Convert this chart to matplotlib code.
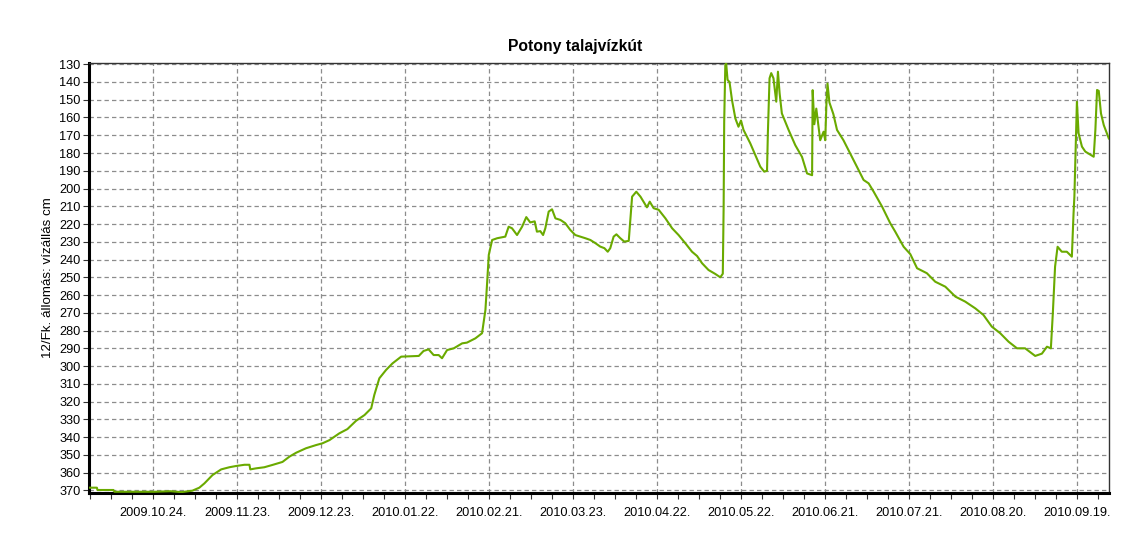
import numpy as np
import matplotlib
matplotlib.use("Agg")
import matplotlib.pyplot as plt
import matplotlib.dates as mdates

plt.rcParams['font.family'] = ['Liberation Sans', 'DejaVu Sans']

# ---- data ----
title = "Potony talajvízkút"
ylabel = "12/Fk. állomás: vízállás cm"
start_date = "2009-10-01"
# days since start_date
days = [0.0, 2.8, 3.0, 8.7, 9.1, 23.4, 29.1, 33.0, 36.9, 39.4, 41.2, 44.1, 47.2, 50.1,
        52.5, 55.5, 57.3, 57.6, 59.7, 62.6, 65.5, 69.1, 71.6, 74.0, 77.5, 81.1, 83.4,
        85.9, 89.4, 92.3, 95.4, 98.4, 100.8, 101.9, 103.7, 106.1, 108.4, 111.5, 117.8,
        119.5, 121.3, 123.1, 124.9, 126.1, 127.9, 130.3, 133.3, 135.0, 138.0, 140.4,
        141.6, 142.2, 142.8, 144.0, 145.8, 148.7, 149.9, 151.1, 152.9, 154.7, 156.2,
        157.6, 159.2, 160.0, 161.2, 162.2, 163.0, 164.2, 165.4, 166.6, 168.4, 170.1,
        171.9, 173.7, 175.5, 177.3, 179.1, 180.9, 182.6, 184.1, 185.3, 186.2, 187.4,
        188.4, 189.8, 191.2, 192.8, 194.0, 195.5, 197.0, 199.3, 200.3, 201.7, 203.5,
        205.9, 208.3, 210.6, 213.0, 215.4, 217.2, 219.0, 221.3, 223.7, 225.5, 226.4,
        226.7, 226.9, 227.3, 227.6, 228.1, 228.8, 229.7, 230.9, 232.0, 232.9, 233.8,
        236.2, 238.0, 239.8, 241.2, 242.2, 242.5, 243.1, 243.7, 244.5, 245.5, 246.1,
        246.7, 247.5, 249.9, 252.3, 254.7, 256.5, 258.3, 258.5, 259.1, 259.8, 261.2,
        262.4, 263.0, 263.4, 263.8, 264.5, 265.9, 267.2, 269.5, 271.9, 274.3, 276.7,
        278.5, 280.3, 283.3, 286.2, 288.0, 291.0, 293.4, 295.8, 299.3, 302.3, 305.9,
        309.5, 313.0, 316.6, 319.5, 322.5, 325.5, 328.5, 331.5, 334.4, 338.0, 340.4,
        342.2, 343.6, 344.3, 345.1, 346.0, 347.5, 349.3, 351.1, 351.7, 352.0, 352.9,
        353.5, 354.7, 355.9, 358.9, 359.5, 360.1, 360.7, 361.5, 362.5, 364.3]
level_cm = [368.5, 368.5, 369.8, 369.8, 370.8, 370.8, 370.5, 371.0, 370.2, 368.5, 366.1,
            361.4, 358.2, 357.0, 356.3, 355.6, 355.6, 358.2, 357.6, 357.0, 355.7, 354.0,
            351.0, 348.8, 346.3, 344.5, 343.5, 341.7, 337.9, 335.5, 330.8, 327.6, 323.8,
            316.3, 306.9, 302.2, 298.5, 294.7, 294.3, 291.5, 290.6, 293.8, 293.8, 295.6,
            291.0, 290.0, 287.2, 286.8, 284.4, 281.5, 268.4, 253.4, 237.4, 229.0, 228.0,
            227.1, 221.5, 222.4, 226.2, 221.5, 216.1, 219.1, 218.5, 224.3, 224.0, 226.2,
            222.4, 213.0, 211.7, 216.8, 217.7, 219.5, 223.3, 226.2, 227.1, 228.0, 229.0,
            230.8, 232.7, 233.6, 235.6, 233.6, 227.1, 225.8, 228.0, 229.9, 229.5, 204.6,
            201.8, 204.6, 210.6, 207.4, 211.1, 212.0, 216.8, 222.4, 226.2, 230.8, 235.6,
            238.0, 242.1, 245.9, 248.1, 250.0, 248.0, 210.2, 162.3, 130.4, 129.4, 138.8,
            140.0, 150.3, 160.6, 165.2, 161.7, 167.0, 174.5, 181.1, 187.7, 190.5, 190.0,
            168.9, 137.9, 135.0, 137.9, 151.1, 134.2, 146.4, 157.7, 167.0, 175.6, 182.2,
            191.5, 192.5, 144.6, 163.8, 155.0, 172.8, 168.0, 172.8, 153.1, 140.9, 151.6,
            158.1, 167.0, 172.8, 180.2, 187.7, 195.2, 197.1, 201.8, 210.2, 219.5, 224.3,
            232.8, 237.0, 244.9, 247.7, 252.5, 255.3, 260.9, 263.7, 267.5, 271.2, 277.8,
            281.5, 286.3, 290.0, 290.0, 294.3, 293.0, 289.1, 290.0, 270.3, 244.0, 232.8,
            235.6, 235.6, 238.4, 214.0, 204.6, 151.1, 168.9, 176.4, 179.2, 182.1, 167.0,
            144.5, 145.0, 157.7, 164.3, 171.8]
tick_dates = ["2009-10-24", "2009-11-23", "2009-12-23", "2010-01-22", "2010-02-21",
              "2010-03-23", "2010-04-22", "2010-05-22", "2010-06-21", "2010-07-21",
              "2010-08-20", "2010-09-19"]
y_ticks = list(range(130, 371, 10))

# ---- plot ----
t0 = np.datetime64(start_date)
dates = t0 + (np.array(days) * 24 * 3600).astype("timedelta64[s]")

fig = plt.figure(figsize=(11.3, 5.54), dpi=100)
ax = fig.add_axes([0.0788, 0.1101, 0.9027, 0.7762])

ax.plot(dates, level_cm, color="#6aaa00", lw=1.5, zorder=3)

xmin = t0
xmax = t0 + np.timedelta64(int(364.4 * 24 * 3600), "s")
ax.set_xlim(xmin, xmax)
ax.set_ylim(371.5, 129.3)

major = [mdates.date2num(np.datetime64(d)) for d in tick_dates]
ax.xaxis.set_major_locator(matplotlib.ticker.FixedLocator(major))
ax.xaxis.set_major_formatter(mdates.DateFormatter("%Y.%m.%d."))
minor = np.arange(mdates.date2num(t0) + 0.5, mdates.date2num(xmax), 7.5)
ax.xaxis.set_minor_locator(matplotlib.ticker.FixedLocator(minor))
ax.set_yticks(y_ticks)

ax.grid(True, which="major", color="#8c8c8c", linestyle=(0, (3.5, 2.5)), lw=0.9)
ax.set_axisbelow(True)

ax.tick_params(axis="both", which="major", labelsize=9.2, color="#333333",
               length=4, width=0.8, pad=2)
ax.tick_params(axis="x", which="major", pad=6)
ax.tick_params(axis="x", which="minor", length=4, width=0.8, color="#333333")

for s in ["left", "bottom"]:
    ax.spines[s].set_linewidth(2.2)
    ax.spines[s].set_color("black")
for s in ["top", "right"]:
    ax.spines[s].set_linewidth(1.0)
    ax.spines[s].set_color("#333333")

fig.text(575 / 1130, 1 - 46 / 554, title, fontsize=11.3, fontweight="bold",
         ha="center", va="center")
ax.set_ylabel(ylabel, fontsize=9.6, labelpad=4)

fig.savefig("out.png", dpi=100, facecolor="white")
